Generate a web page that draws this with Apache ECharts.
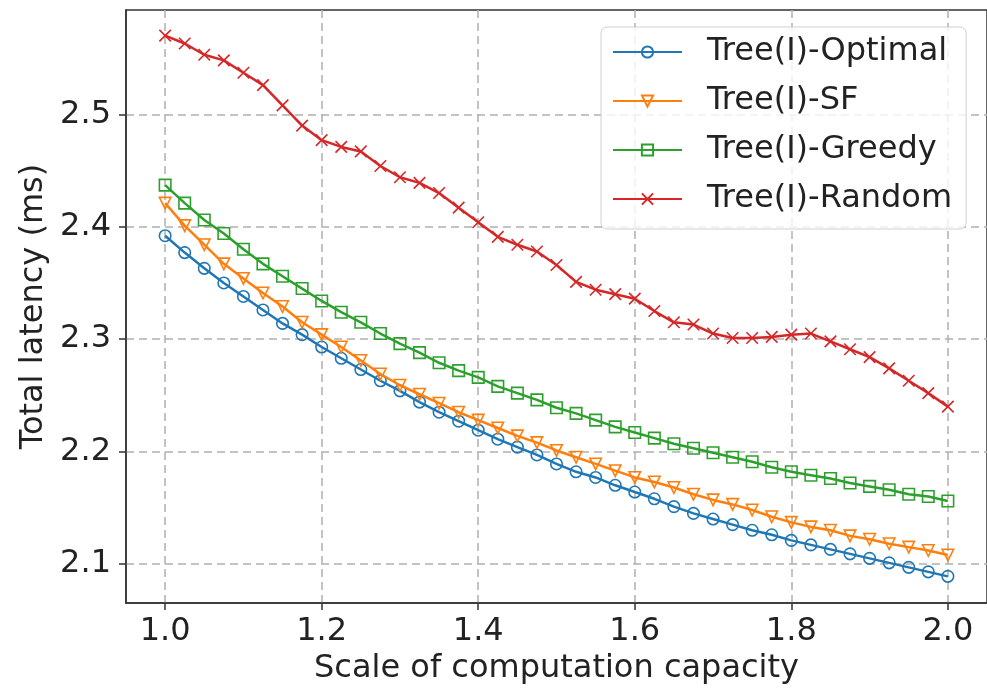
<!DOCTYPE html>
<html>
<head>
<meta charset="utf-8">
<script src="https://cdn.jsdelivr.net/npm/echarts@6/dist/echarts.min.js"></script>
<style>
html,body{margin:0;padding:0;background:#fff;}
#chart{width:987px;height:690px;}
</style>
</head>
<body>
<div id="chart"></div>
<script>
const xValues = [1.0,1.025,1.05,1.075,1.1,1.125,1.15,1.175,1.2,1.225,1.25,1.275,1.3,1.325,1.35,1.375,1.4,1.425,1.45,1.475,1.5,1.525,1.55,1.575,1.6,1.625,1.65,1.675,1.7,1.725,1.75,1.775,1.8,1.825,1.85,1.875,1.9,1.925,1.95,1.975,2.0];
const optimal = [2.392,2.377,2.363,2.350,2.338,2.326,2.314,2.304,2.293,2.283,2.273,2.263,2.254,2.244,2.235,2.227,2.219,2.211,2.204,2.197,2.189,2.182,2.177,2.170,2.164,2.158,2.151,2.145,2.140,2.135,2.130,2.126,2.121,2.117,2.113,2.109,2.105,2.101,2.097,2.093,2.089];
const sf = [2.421,2.401,2.384,2.367,2.354,2.341,2.329,2.315,2.304,2.293,2.281,2.269,2.259,2.251,2.243,2.235,2.228,2.221,2.214,2.208,2.201,2.195,2.189,2.183,2.177,2.173,2.168,2.162,2.157,2.153,2.148,2.142,2.137,2.133,2.130,2.125,2.122,2.118,2.115,2.112,2.108];
const greedy = [2.437,2.421,2.406,2.394,2.380,2.367,2.356,2.345,2.334,2.324,2.315,2.305,2.296,2.288,2.279,2.272,2.266,2.258,2.252,2.246,2.239,2.234,2.228,2.222,2.217,2.212,2.207,2.203,2.199,2.195,2.191,2.186,2.182,2.179,2.176,2.172,2.169,2.166,2.162,2.160,2.156];
const random = [2.570,2.563,2.553,2.548,2.537,2.526,2.508,2.490,2.477,2.471,2.467,2.454,2.444,2.439,2.430,2.417,2.404,2.391,2.384,2.378,2.366,2.351,2.344,2.340,2.336,2.325,2.315,2.313,2.305,2.301,2.301,2.302,2.304,2.305,2.298,2.291,2.284,2.274,2.263,2.252,2.240];
const seriesNames = ['Tree(I)-Optimal','Tree(I)-SF','Tree(I)-Greedy','Tree(I)-Random'];
const xTicks = [1.0,1.2,1.4,1.6,1.8,2.0];
const yTicks = [2.1,2.2,2.3,2.4,2.5];

const colors = ['#1f77b4','#ff7f0e','#2ca02c','#d62728'];
const symbols = ['circle','triangle','rect','path://M0,0L10,10M10,0L0,10'];
const rotates = [0,180,0,0];
const dataSets = [optimal, sf, greedy, random];
const FONT = 'DejaVu Sans';

function pairs(arr){ return xValues.map((x,i)=>[x,arr[i]]); }

const series = dataSets.map((d,k)=>({
  name: seriesNames[k],
  type: 'line',
  data: pairs(d),
  color: colors[k],
  symbol: symbols[k],
  symbolRotate: rotates[k],
  symbolSize: 11.5,
  symbolKeepAspect: true,
  showAllSymbol: true,
  lineStyle: {color: colors[k], width: 2.5},
  itemStyle: {color: 'rgba(0,0,0,0)', borderColor: colors[k], borderWidth: 1.6},
  emphasis: {disabled: true},
  z: 3 + k
}));

const chart = echarts.init(document.getElementById('chart'), null, {renderer:'canvas'});
chart.setOption({
  animation: false,
  backgroundColor: '#fff',
  textStyle: {fontFamily: FONT},
  grid: {left: 126, top: 10, width: 869, height: 593, show: true, borderColor: '#333', borderWidth: 1.5, backgroundColor: 'rgba(0,0,0,0)', containLabel: false},
  legend: {
    orient: 'vertical',
    left: 601, top: 27,
    padding: [6, 14, 11, 11],
    itemGap: 11,
    itemWidth: 69,
    itemHeight: 14,
    backgroundColor: 'rgba(255,255,255,0.8)',
    borderColor: '#d0d0d0',
    borderWidth: 1,
    borderRadius: 6,
    textStyle: {fontFamily: FONT, fontSize: 32, color: '#222', lineHeight: 38, padding: [0,0,0,20]},
    data: seriesNames
  },
  xAxis: {
    type: 'value',
    min: 0.95, max: 2.05,
    name: 'Scale of computation capacity',
    nameLocation: 'middle',
    nameGap: 50,
    nameTextStyle: {fontFamily: FONT, fontSize: 32, color: '#222'},
    axisLine: {show: true, lineStyle: {color: '#333', width: 1.5}},
    axisTick: {show: true, length: 7, inside: false, lineStyle: {color: '#333', width: 1.5}, customValues: xTicks},
    axisLabel: {fontFamily: FONT, fontSize: 32, color: '#222', margin: 13, customValues: xTicks, formatter: v => v.toFixed(1)},
    splitLine: {show: true, lineStyle: {color: '#b0b0b0', width: 1.5, type: [8,5]}}
  },
  yAxis: {
    type: 'value',
    min: 2.0653, max: 2.5928,
    name: 'Total latency (ms)',
    nameLocation: 'middle',
    nameGap: 75,
    nameRotate: 90,
    nameTextStyle: {fontFamily: FONT, fontSize: 32, color: '#222'},
    axisLine: {show: true, lineStyle: {color: '#333', width: 1.5}},
    axisTick: {show: true, length: 7, inside: false, lineStyle: {color: '#333', width: 1.5}, customValues: yTicks},
    axisLabel: {fontFamily: FONT, fontSize: 32, color: '#222', margin: 15, customValues: yTicks, formatter: v => v.toFixed(1)},
    splitLine: {show: true, lineStyle: {color: '#b0b0b0', width: 1.5, type: [8,5]}}
  },
  series: series
});
</script>
</body>
</html>
